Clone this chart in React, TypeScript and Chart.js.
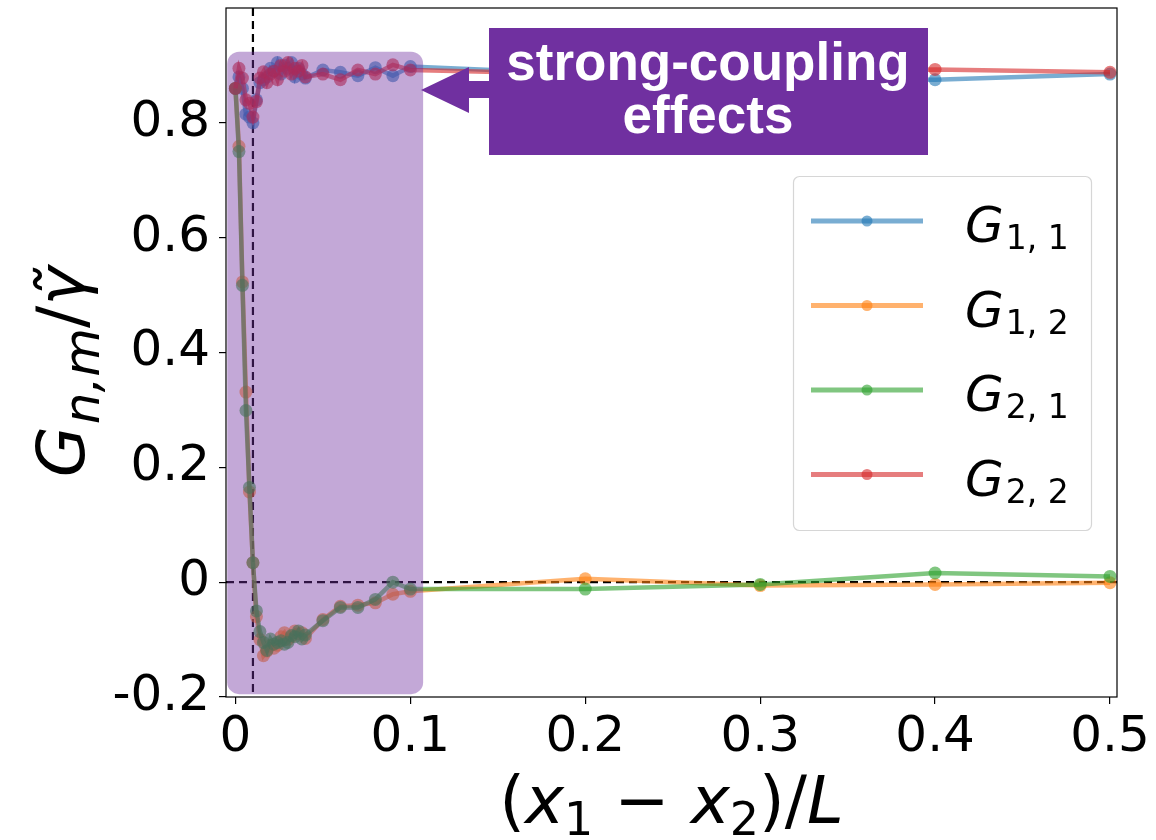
import React, { useEffect, useRef } from 'react';
import { Chart, registerables } from 'chart.js';

Chart.register(...registerables);

// ---------------- data ----------------
const xValues = [0, 0.002, 0.004, 0.006, 0.008, 0.01, 0.012, 0.014, 0.016, 0.018, 0.02, 0.022, 0.024, 0.026, 0.028, 0.03, 0.032, 0.034, 0.036, 0.038, 0.04, 0.05, 0.06, 0.07, 0.08, 0.09, 0.1, 0.2, 0.3, 0.4, 0.5];
const g11 = [0.86, 0.88, 0.86, 0.815, 0.81, 0.80, 0.84, 0.87, 0.875, 0.88, 0.895, 0.89, 0.905, 0.885, 0.9, 0.895, 0.905, 0.88, 0.895, 0.885, 0.878, 0.892, 0.888, 0.882, 0.896, 0.882, 0.898, 0.885, 0.88, 0.875, 0.885];
const g12 = [0.86, 0.759, 0.523, 0.331, 0.157, 0.034, -0.06, -0.10, -0.128, -0.12, -0.11, -0.115, -0.11, -0.095, -0.088, -0.10, -0.095, -0.085, -0.09, -0.088, -0.098, -0.065, -0.042, -0.04, -0.036, -0.021, -0.016, 0.006, -0.006, -0.004, -0.001];
const g21 = [0.86, 0.750, 0.517, 0.299, 0.165, 0.034, -0.05, -0.086, -0.105, -0.119, -0.099, -0.108, -0.105, -0.102, -0.108, -0.105, -0.093, -0.095, -0.085, -0.099, -0.092, -0.067, -0.044, -0.044, -0.030, 0.0, -0.012, -0.012, -0.004, 0.016, 0.010];
const g22 = [0.86, 0.895, 0.878, 0.84, 0.834, 0.81, 0.837, 0.878, 0.889, 0.87, 0.885, 0.89, 0.875, 0.9, 0.89, 0.905, 0.885, 0.895, 0.89, 0.9, 0.88, 0.885, 0.875, 0.892, 0.885, 0.901, 0.892, 0.885, 0.888, 0.893, 0.888];

const seriesSubscripts = ['1, 1', '1, 2', '2, 1', '2, 2'];
const seriesValues = [g11, g12, g21, g22];
const seriesRGB = ['31,119,180', '255,127,14', '44,160,44', '214,39,40'];

const xTicks = [0, 0.1, 0.2, 0.3, 0.4, 0.5];
const xTickLabels = ['0', '0.1', '0.2', '0.3', '0.4', '0.5'];
const yTicks = [-0.2, 0, 0.2, 0.4, 0.6, 0.8];
const yTickLabels = ['-0.2', '0', '0.2', '0.4', '0.6', '0.8'];

const xRange = [-0.0054, 0.504];
const yRange = [-0.2, 1.0];
const refLineX = 0.01;
const refLineY = 0;
const highlightX = [-0.0047, 0.1073];
const highlightY = [-0.195, 0.924];
const annotationLines = ['strong-coupling', 'effects'];

// ---------------- helpers ----------------
const FONT = "'DejaVu Sans'";
type Run = { t: string; it?: boolean; s: number; dy?: number };

function runsWidth(ctx: CanvasRenderingContext2D, runs: Run[]) {
  let w = 0;
  for (const r of runs) {
    ctx.font = `${r.it ? 'italic ' : ''}${r.s}px ${FONT}`;
    w += ctx.measureText(r.t).width;
  }
  return w;
}
function drawRuns(ctx: CanvasRenderingContext2D, runs: Run[], x: number, y: number) {
  let cx = x;
  for (const r of runs) {
    ctx.font = `${r.it ? 'italic ' : ''}${r.s}px ${FONT}`;
    ctx.fillText(r.t, cx, y + (r.dy || 0));
    cx += ctx.measureText(r.t).width;
  }
}

const overlayPlugin = {
  id: 'overlay',
  beforeDatasetsDraw(chart: any) {
    const { ctx, chartArea: a, scales } = chart;
    const px = scales.x.getPixelForValue(refLineX);
    const py = scales.y.getPixelForValue(refLineY);
    ctx.save();
    ctx.strokeStyle = '#000';
    ctx.lineWidth = 2.2;
    ctx.setLineDash([8, 5]);
    ctx.beginPath();
    ctx.moveTo(px, a.top);
    ctx.lineTo(px, a.bottom);
    ctx.moveTo(a.left, py);
    ctx.lineTo(a.right, py);
    ctx.stroke();
    ctx.restore();
  },
  afterDatasetsDraw(chart: any) {
    const { ctx, chartArea: a, scales } = chart;
    ctx.save();
    // frame
    ctx.strokeStyle = '#000';
    ctx.lineWidth = 1.2;
    ctx.strokeRect(a.left, a.top, a.right - a.left, a.bottom - a.top);

    // highlight overlay
    const hx0 = scales.x.getPixelForValue(highlightX[0]);
    const hx1 = scales.x.getPixelForValue(highlightX[1]);
    const hy0 = scales.y.getPixelForValue(highlightY[1]);
    const hy1 = scales.y.getPixelForValue(highlightY[0]);
    ctx.fillStyle = 'rgba(112,48,160,0.42)';
    ctx.beginPath();
    (ctx as any).roundRect(hx0, hy0, hx1 - hx0, hy1 - hy0, 12);
    ctx.fill();

    // annotation arrow + box
    ctx.fillStyle = '#7030a0';
    ctx.beginPath();
    ctx.moveTo(421, 90);
    ctx.lineTo(469, 67);
    ctx.lineTo(469, 81);
    ctx.lineTo(490, 81);
    ctx.lineTo(490, 98);
    ctx.lineTo(469, 98);
    ctx.lineTo(469, 113);
    ctx.closePath();
    ctx.fill();
    ctx.fillRect(489, 28, 439, 127);
    ctx.fillStyle = '#ffffff';
    ctx.font = "bold 53px 'Liberation Sans'";
    ctx.textAlign = 'center';
    ctx.textBaseline = 'alphabetic';
    ctx.fillText(annotationLines[0], 708, 80);
    ctx.fillText(annotationLines[1], 708, 133);

    // legend
    ctx.textAlign = 'left';
    ctx.fillStyle = 'rgba(255,255,255,0.8)';
    ctx.strokeStyle = '#d6d6d6';
    ctx.lineWidth = 1.2;
    ctx.beginPath();
    (ctx as any).roundRect(793.5, 176.5, 298, 354, 6);
    ctx.fill();
    ctx.stroke();
    for (let i = 0; i < seriesSubscripts.length; i++) {
      const ly = 221 + i * 84.5;
      ctx.strokeStyle = `rgba(${seriesRGB[i]},0.6)`;
      ctx.lineWidth = 5;
      ctx.beginPath();
      ctx.moveTo(811, ly);
      ctx.lineTo(923, ly);
      ctx.stroke();
      ctx.fillStyle = `rgba(${seriesRGB[i]},0.6)`;
      ctx.beginPath();
      ctx.arc(867, ly, 5.5, 0, Math.PI * 2);
      ctx.fill();
      ctx.fillStyle = '#000';
      drawRuns(ctx, [
        { t: 'G', it: true, s: 50 },
        { t: ' ', s: 6 },
        { t: seriesSubscripts[i], s: 33, dy: 7 },
      ], 965, ly + 21);
    }

    // y axis title (rotated)
    ctx.fillStyle = '#000';
    const yRuns: Run[] = [
      { t: 'G', it: true, s: 66 },
      { t: ' ', s: 6 },
      { t: 'n,m', it: true, s: 50, dy: 15 },
      { t: '/', s: 66 },
      { t: 'γ\u0303', it: true, s: 66 },
    ];
    const yw = runsWidth(ctx, yRuns);
    ctx.translate(84, 372);
    ctx.rotate(-Math.PI / 2);
    drawRuns(ctx, yRuns, -yw / 2, 0);
    ctx.setTransform(1, 0, 0, 1, 0, 0);

    // x axis title
    const xRuns: Run[] = [
      { t: '(', s: 66 },
      { t: 'x', it: true, s: 66 },
      { t: '1', s: 46, dy: 12 },
      { t: ' − ', s: 66 },
      { t: 'x', it: true, s: 66 },
      { t: '2', s: 46, dy: 12 },
      { t: ')/', s: 66 },
      { t: 'L', it: true, s: 66 },
    ];
    const xw = runsWidth(ctx, xRuns);
    drawRuns(ctx, xRuns, (a.left + a.right) / 2 - xw / 2, 823);
    ctx.restore();
  },
};

export default function App() {
  const ref = useRef<HTMLCanvasElement>(null);
  useEffect(() => {
    if (!ref.current) return;
    const datasets = seriesValues.map((vals, i) => ({
      label: 'G' + seriesSubscripts[i],
      data: xValues.map((x, j) => ({ x, y: vals[j] })),
      borderColor: `rgba(${seriesRGB[i]},0.6)`,
      backgroundColor: `rgba(${seriesRGB[i]},0.6)`,
      borderWidth: 4.5,
      pointRadius: 6.5,
      pointHoverRadius: 6.5,
      pointBorderWidth: 0,
      pointBackgroundColor: `rgba(${seriesRGB[i]},0.6)`,
      tension: 0,
      order: seriesValues.length - i,
    }));
    const tickFont = { family: FONT, size: 50 };
    const chart = new Chart(ref.current, {
      type: 'line',
      data: { datasets },
      options: {
        responsive: false,
        animation: false,
        devicePixelRatio: 1,
        layout: { padding: { left: 0, top: 8, right: 39, bottom: 0 } },
        plugins: { legend: { display: false }, tooltip: { enabled: false } },
        scales: {
          x: {
            type: 'linear',
            min: xRange[0],
            max: xRange[1],
            border: { display: false },
            grid: { display: true, drawOnChartArea: false, drawTicks: true, tickLength: 7, color: '#000', lineWidth: 1.2 },
            ticks: {
              font: tickFont,
              color: '#000',
              padding: 4,
              maxRotation: 0,
              autoSkip: false,
              callback: (v: any) => {
                const k = xTicks.findIndex((t) => Math.abs(t - v) < 1e-9);
                return k >= 0 ? xTickLabels[k] : '';
              },
            },
            afterBuildTicks: (s: any) => { s.ticks = xTicks.map((v) => ({ value: v })); },
            afterFit: (s: any) => { s.height = 143; s.paddingLeft = 0; s.paddingRight = 0; },
          },
          y: {
            type: 'linear',
            min: yRange[0],
            max: yRange[1],
            border: { display: false },
            grid: { display: true, drawOnChartArea: false, drawTicks: true, tickLength: 7, color: '#000', lineWidth: 1.2 },
            ticks: {
              font: tickFont,
              color: '#000',
              padding: 9,
              autoSkip: false,
              callback: (v: any) => {
                const k = yTicks.findIndex((t) => Math.abs(t - v) < 1e-9);
                return k >= 0 ? yTickLabels[k] : '';
              },
            },
            afterBuildTicks: (s: any) => { s.ticks = yTicks.map((v) => ({ value: v })); },
            afterFit: (s: any) => { s.width = 226; s.paddingTop = 0; s.paddingBottom = 0; },
          },
        },
      },
      plugins: [overlayPlugin],
    } as any);
    return () => chart.destroy();
  }, []);
  return (
    <div style={{ position: 'absolute', left: 0, top: 0, width: 1156, height: 840, background: '#fff' }}>
      <canvas ref={ref} width={1156} height={840} style={{ display: 'block', width: 1156, height: 840 }} />
    </div>
  );
}
